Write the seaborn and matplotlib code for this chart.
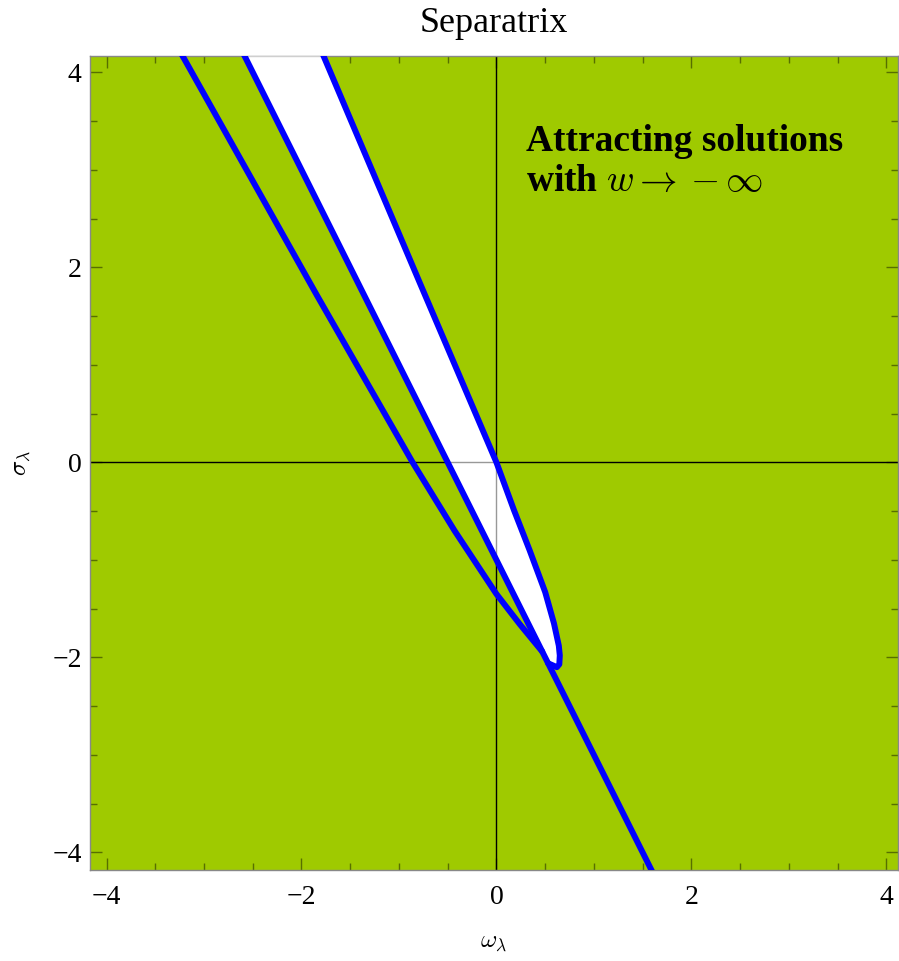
# plot.py
# Separatrix region plot: green background, white wedge, blue boundary curves

import matplotlib
matplotlib.use("Agg")
import matplotlib.pyplot as plt
import seaborn as sns
import pandas as pd
from matplotlib.ticker import MultipleLocator

# boundary curves (omega_lambda, sigma_lambda)
outer_omega = [-3.294, -1.84, -0.86, -0.43, 0.0, 0.24, 0.47]
outer_sigma = [4.30, 1.71, 0.0, -0.70, -1.35, -1.66, -1.94]

middle_omega = [-2.65, 1.65]
middle_sigma = [4.30, -4.30]

right_omega = [-1.83, -0.79, 0.0, 0.18, 0.34, 0.50, 0.59, 0.64, 0.65, 0.645, 0.62, 0.53]
right_sigma = [4.30, 1.85, 0.0, -0.49, -0.90, -1.33, -1.65, -1.88, -1.98, -2.07, -2.10, -2.06]

major_ticks = [-4, -2, 0, 2, 4]

GREEN = "#9fca00"
BLUE = "#0000ff"

sns.set_theme(style="white")
plt.rcParams["font.family"] = ["Liberation Serif", "DejaVu Serif"]
plt.rcParams["mathtext.fontset"] = "cm"
plt.rcParams["text.color"] = "black"
plt.rcParams["xtick.color"] = "black"
plt.rcParams["ytick.color"] = "black"
plt.rcParams["axes.labelcolor"] = "black"

fig = plt.figure(figsize=(8.99, 9.61), dpi=100)
ax = fig.add_axes([0.1001, 0.0947, 0.8988, 0.8473])
ax.set_facecolor(GREEN)

# white region between the straight line and the right curve
white_omega = right_omega + [middle_omega[0]]
white_sigma = right_sigma + [middle_sigma[0]]
ax.fill(white_omega, white_sigma, color="white", lw=0, zorder=1)

# axes through the origin, faded where they cross the white region
ax.axhline(0, color="black", lw=1.0, zorder=2)
ax.axvline(0, color="black", lw=1.0, zorder=2)
ax.fill(white_omega, white_sigma, color="white", alpha=0.6, lw=0, zorder=3)

curves = [
    pd.DataFrame({"omega": outer_omega, "sigma": outer_sigma}),
    pd.DataFrame({"omega": middle_omega, "sigma": middle_sigma}),
    pd.DataFrame({"omega": right_omega, "sigma": right_sigma}),
]
for df in curves:
    sns.lineplot(data=df, x="omega", y="sigma", sort=False, estimator=None,
                 color=BLUE, lw=4.3, ax=ax, zorder=4,
                 solid_joinstyle="round", solid_capstyle="round")

ax.text(0.30, 3.47, "Attracting solutions\nwith $w \\to -\\infty$",
        fontsize=27, fontweight="bold", color="black", ha="left", va="top",
        linespacing=1.2, zorder=5)

ax.set_xlim(-4.17, 4.12)
ax.set_ylim(-4.18, 4.17)
ax.set_xticks(major_ticks)
ax.set_yticks(major_ticks)
ax.xaxis.set_minor_locator(MultipleLocator(0.5))
ax.yaxis.set_minor_locator(MultipleLocator(0.5))
ax.tick_params(which="both", direction="in", top=True, right=True,
               bottom=True, left=True, color=(0, 0, 0, 0.45), width=1,
               labelsize=20, labelcolor="black")
ax.tick_params(which="major", length=8.5)
ax.tick_params(which="minor", length=5)
ax.tick_params(axis="x", pad=11)
ax.tick_params(axis="y", pad=6)

for s in ax.spines.values():
    s.set_color("#888888")
    s.set_linewidth(1.0)

ax.set_xlabel("$\\omega_\\lambda$", fontsize=18, labelpad=16)
ax.set_ylabel("$\\sigma_\\lambda$", fontsize=18, labelpad=14)
ax.set_title("Separatrix", fontsize=26, pad=17, color="black")

fig.savefig("out.png", dpi=100)
